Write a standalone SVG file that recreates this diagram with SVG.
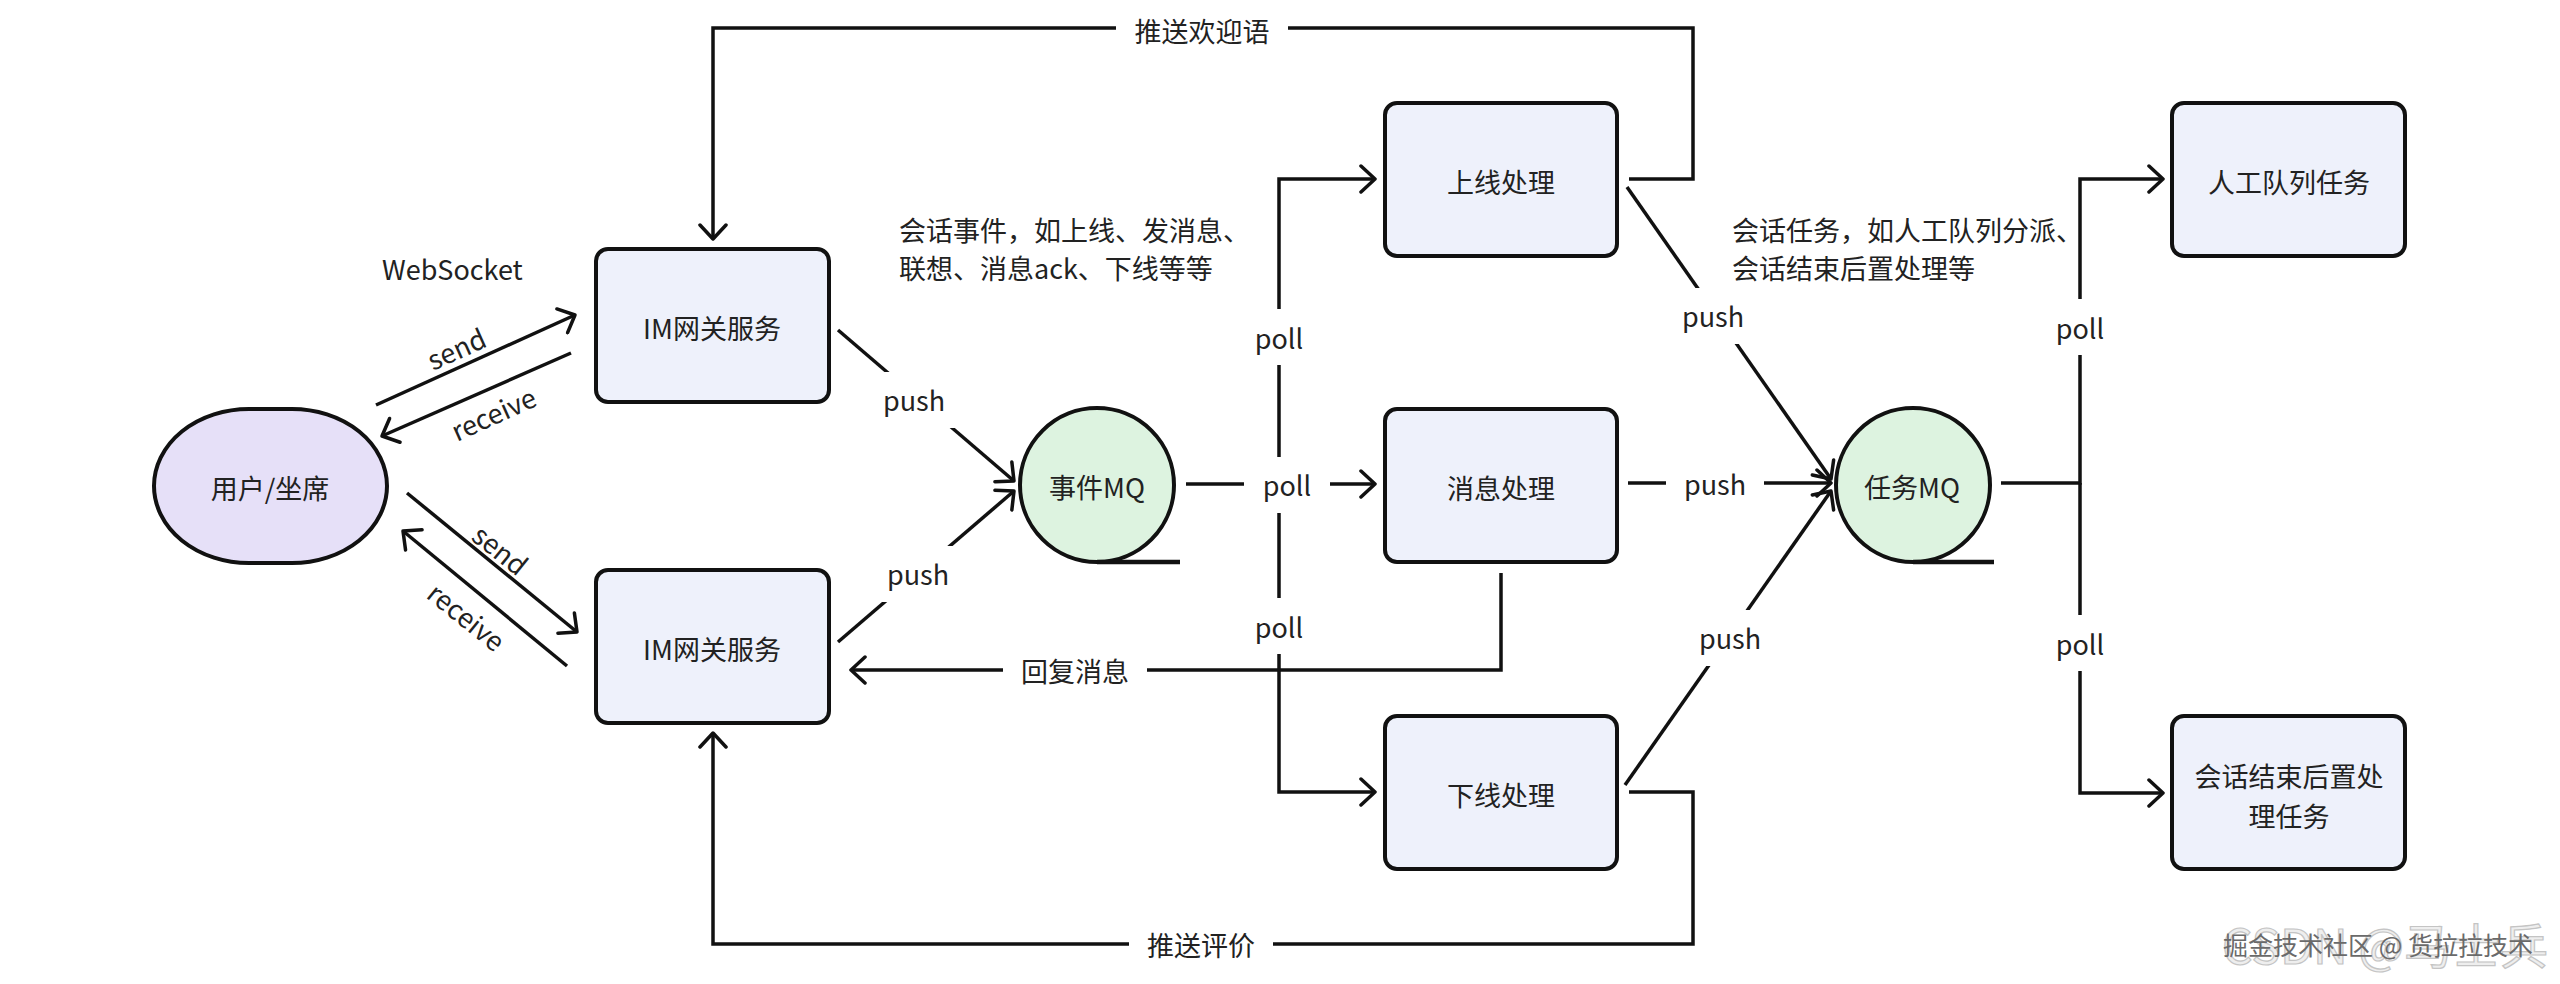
<svg xmlns="http://www.w3.org/2000/svg" width="2560" height="984" viewBox="0 0 2560 984">
<defs>
<style>
text{font-family:"Noto Sans CJK SC","Noto Sans",sans-serif;font-size:27px;fill:#222;}
.c{text-anchor:middle;dominant-baseline:central;}
.box{fill:#EEF1FB;stroke:#111;stroke-width:4;}
.user{fill:#E6E0F8;stroke:#111;stroke-width:4;}
.mq{fill:#DDF3E0;stroke:#111;stroke-width:4;}
.ln{fill:none;stroke:#111;stroke-width:3.5;}
.arr{fill:none;stroke:#111;stroke-width:3.5;marker-end:url(#ah);}
.bg{fill:#fff;}
.wm1{font-size:48px;fill:#eeeeee;stroke:#c4c4c4;stroke-width:1.2;}
.wm2{font-size:25px;fill:#6a6a6a;}
</style>
<marker id="ah" viewBox="0 0 20 30" refX="17" refY="15" markerWidth="20" markerHeight="30" markerUnits="userSpaceOnUse" orient="auto">
<path d="M3,2 L17,15 L3,28" fill="none" stroke="#111" stroke-width="3.5" stroke-linecap="round" stroke-linejoin="round"/>
</marker>
</defs>
<rect width="2560" height="984" fill="#fff"/>

<g id="connectors">
<path class="arr" d="M1629,179 H1693 V28 H713 V239"/>
<path class="arr" d="M1629,792 H1693 V944 H713 V733"/>
<path class="arr" d="M1501,573 V670 H851"/>
<path class="arr" d="M376,405 L575,315"/>
<path class="arr" d="M571,353 L382,436"/>
<path class="arr" d="M407,493 L577,632"/>
<path class="arr" d="M567,666 L403,531"/>
<path class="arr" d="M838,330 L1014,481"/>
<path class="arr" d="M838,642 L1014,491"/>
<path class="arr" d="M1186,484 H1375"/>
<path class="arr" d="M1279,484 V179 H1375"/>
<path class="arr" d="M1279,484 V792 H1375"/>
<path class="arr" d="M1628,483 H1831"/>
<path class="arr" d="M1627,187 L1831,479"/>
<path class="arr" d="M1625,785 L1831,491"/>
<path class="arr" d="M2001,483 H2080 V179 H2163"/>
<path class="arr" d="M2080,483 V793 H2163"/>

<rect class="bg" x="1116" y="2" width="172" height="56"/>
<text class="c" x="1202" y="30">推送欢迎语</text>
<rect class="bg" x="1129" y="916" width="144" height="56"/>
<text class="c" x="1201" y="944">推送评价</text>
<rect class="bg" x="1003" y="642" width="144" height="56"/>
<text class="c" x="1075" y="670">回复消息</text>

<rect class="bg" x="865" y="372" width="98" height="56"/>
<text class="c" x="914" y="399">push</text>
<rect class="bg" x="869" y="546" width="98" height="56"/>
<text class="c" x="918" y="573">push</text>

<rect class="bg" x="1244" y="457" width="86" height="56"/>
<text class="c" x="1287" y="484">poll</text>
<rect class="bg" x="1236" y="309" width="86" height="56"/>
<text class="c" x="1279" y="337">poll</text>
<rect class="bg" x="1236" y="598" width="86" height="56"/>
<text class="c" x="1279" y="626">poll</text>

<rect class="bg" x="1666" y="456" width="98" height="56"/>
<text class="c" x="1715" y="483">push</text>
<rect class="bg" x="1664" y="288" width="98" height="56"/>
<text class="c" x="1713" y="315">push</text>
<rect class="bg" x="1681" y="610" width="98" height="56"/>
<text class="c" x="1730" y="637">push</text>

<rect class="bg" x="2037" y="299" width="86" height="56"/>
<text class="c" x="2080" y="327">poll</text>
<rect class="bg" x="2037" y="615" width="86" height="56"/>
<text class="c" x="2080" y="643">poll</text>

<text class="c" transform="translate(456,348) rotate(-24.3)">send</text>
<text class="c" transform="translate(493,413) rotate(-24.3)">receive</text>
<text class="c" transform="translate(501,549) rotate(38.8)">send</text>
<text class="c" transform="translate(467,616) rotate(38.8)">receive</text>
</g>

<g id="user">
<rect class="user" x="154" y="409" width="233" height="154" rx="95" ry="77"/>
<text class="c" x="270" y="487">用户/坐席</text>
</g>
<g id="im-gateway-1">
<rect class="box" x="596" y="249" width="233" height="153" rx="12"/>
<text class="c" x="712" y="327">IM网关服务</text>
</g>
<g id="im-gateway-2">
<rect class="box" x="596" y="570" width="233" height="153" rx="12"/>
<text class="c" x="712" y="648">IM网关服务</text>
</g>
<g id="event-mq">
<circle class="mq" cx="1097" cy="485" r="77"/>
<line class="ln" x1="1097" y1="562" x2="1180" y2="562" style="stroke-width:4.5"/>
<text class="c" x="1097" y="486">事件MQ</text>
</g>
<g id="online">
<rect class="box" x="1385" y="103" width="232" height="153" rx="12"/>
<text class="c" x="1501" y="181">上线处理</text>
</g>
<g id="message">
<rect class="box" x="1385" y="409" width="232" height="153" rx="12"/>
<text class="c" x="1501" y="487">消息处理</text>
</g>
<g id="offline">
<rect class="box" x="1385" y="716" width="232" height="153" rx="12"/>
<text class="c" x="1501" y="794">下线处理</text>
</g>
<g id="task-mq">
<circle class="mq" cx="1913" cy="485" r="77"/>
<line class="ln" x1="1913" y1="562" x2="1994" y2="562" style="stroke-width:4.5"/>
<text class="c" x="1912" y="486">任务MQ</text>
</g>
<g id="manual-queue">
<rect class="box" x="2172" y="103" width="233" height="153" rx="12"/>
<text class="c" x="2289" y="181">人工队列任务</text>
</g>
<g id="session-end">
<rect class="box" x="2172" y="716" width="233" height="153" rx="12"/>
<text class="c" x="2289" y="775">会话结束后置处</text>
<text class="c" x="2289" y="815">理任务</text>
</g>

<g id="annotations">
<text x="382" y="268" style="dominant-baseline:central">WebSocket</text>
<text x="899" y="229" style="dominant-baseline:central">会话事件，如上线、发消息、</text>
<text x="899" y="267" style="dominant-baseline:central">联想、消息ack、下线等等</text>
<text x="1732" y="229" style="dominant-baseline:central">会话任务，如人工队列分派、</text>
<text x="1732" y="267" style="dominant-baseline:central">会话结束后置处理等</text>
</g>

<g id="watermark">
<text class="wm1" x="2385" y="943" text-anchor="middle" dominant-baseline="central">CSDN @马士兵</text>
<text class="wm2" x="2378" y="944" text-anchor="middle" dominant-baseline="central">掘金技术社区 @ 货拉拉技术</text>
</g>
</svg>
